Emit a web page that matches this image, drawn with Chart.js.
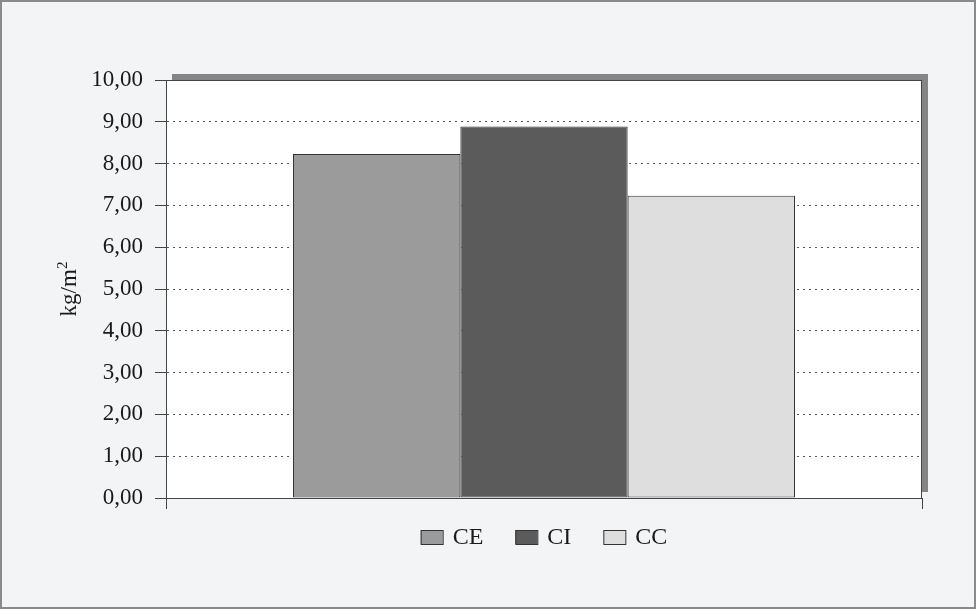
<!DOCTYPE html>
<html>
<head>
<meta charset="utf-8">
<script src="https://cdn.jsdelivr.net/npm/chart.js@4.4.1/dist/chart.umd.min.js"></script>
<style>
  html, body { margin: 0; padding: 0; background: #f3f4f6; }
  #wrap { width: 976px; height: 609px; }
</style>
</head>
<body>
<div id="wrap"><canvas id="chart" width="976" height="609"></canvas></div>
<script>
// Series, one bar each
var seriesNames = ['CE', 'CI', 'CC'];
var seriesValues = [8.23, 8.89, 7.23];
var seriesColors = ['#9b9b9b', '#5b5b5b', '#dedede'];
var categories = [''];
var yTicks = [0, 1, 2, 3, 4, 5, 6, 7, 8, 9, 10];

var serif = "'Liberation Serif', 'DejaVu Serif', serif";

// Frame, plot shadow and white plot background
var backdrop = {
    id: 'backdrop',
    beforeDraw: function (chart) {
        var ctx = chart.ctx, a = chart.chartArea;
        ctx.save();
        ctx.fillStyle = '#f3f4f6';
        ctx.fillRect(0, 0, chart.width, chart.height);
        ctx.strokeStyle = '#8a8a8a';
        ctx.lineWidth = 2;
        ctx.strokeRect(1, 1, chart.width - 2, chart.height - 2);
        ctx.fillStyle = '#858585';
        ctx.fillRect(a.left + 6, a.top - 6, a.right - a.left, a.bottom - a.top);
        ctx.fillStyle = '#ffffff';
        ctx.fillRect(a.left, a.top, a.right - a.left, a.bottom - a.top);
        ctx.restore();
    },
    afterDraw: function (chart) {
        var ctx = chart.ctx, a = chart.chartArea;
        ctx.save();
        ctx.strokeStyle = '#444';
        ctx.lineWidth = 1;
        ctx.strokeRect(a.left + 0.5, a.top + 0.5, a.right - a.left - 1, a.bottom - a.top);

        // y title: kg/m with a raised 2
        ctx.translate(70, (a.top + a.bottom) / 2);
        ctx.rotate(-Math.PI / 2);
        ctx.fillStyle = '#1a1a1a';
        ctx.textBaseline = 'middle';
        ctx.font = '23px ' + serif;
        var base = 'kg/m';
        var w1 = ctx.measureText(base).width;
        ctx.font = '15px ' + serif;
        var w2 = ctx.measureText('2').width;
        ctx.font = '23px ' + serif;
        ctx.fillText(base, -(w1 + w2) / 2, 0);
        ctx.font = '15px ' + serif;
        ctx.fillText('2', -(w1 + w2) / 2 + w1, -7);
        ctx.setTransform(1, 0, 0, 1, 0, 0);

        // legend row under the plot
        ctx.font = '24px ' + serif;
        ctx.textBaseline = 'middle';
        var y = 537, gap = 32, box = 22;
        var total = 0;
        chart.data.datasets.forEach(function (ds) {
            total += box + 10 + ctx.measureText(ds.label).width;
        });
        total += gap * (chart.data.datasets.length - 1);
        var x = (a.left + a.right) / 2 - total / 2;
        chart.data.datasets.forEach(function (ds) {
            ctx.fillStyle = ds.backgroundColor;
            ctx.fillRect(x, y - 7, box, 14);
            ctx.strokeStyle = '#333';
            ctx.strokeRect(x + 0.5, y - 6.5, box, 14);
            ctx.fillStyle = '#1a1a1a';
            ctx.fillText(ds.label, x + box + 10, y + 1);
            x += box + 10 + ctx.measureText(ds.label).width + gap;
        });
        ctx.restore();
    }
};

new Chart(document.getElementById('chart'), {
    type: 'bar',
    data: {
        labels: categories,
        datasets: seriesNames.map(function (name, i) {
            return {
                label: name,
                data: [seriesValues[i]],
                backgroundColor: seriesColors[i],
                borderColor: '#333',
                borderWidth: 1,
                borderSkipped: false,
                categoryPercentage: 0.664,
                barPercentage: 1
            };
        })
    },
    options: {
        responsive: false,
        animation: false,
        layout: { padding: { left: 0, top: 80, right: 54, bottom: 0 } },
        plugins: {
            legend: { display: false },
            tooltip: { enabled: false }
        },
        scales: {
            x: {
                grid: {
                    display: true,
                    drawOnChartArea: false,
                    drawTicks: true,
                    tickLength: 11,
                    color: '#444'
                },
                border: { color: '#444', width: 1 },
                ticks: { display: false },
                afterFit: function (scale) { scale.height = 111; }
            },
            y: {
                min: 0,
                max: 10,
                afterBuildTicks: function (scale) {
                    scale.ticks = yTicks.map(function (v) { return { value: v }; });
                },
                grid: {
                    color: '#555',
                    lineWidth: 1,
                    tickLength: 11,
                    tickColor: '#444',
                    tickBorderDash: []
                },
                border: { color: '#444', width: 1, dash: [2, 4] },
                ticks: {
                    color: '#1a1a1a',
                    padding: 12,
                    font: { family: serif, size: 23 },
                    callback: function (v) { return v.toFixed(2).replace('.', ','); }
                },
                afterFit: function (scale) { scale.width = 166; }
            }
        }
    },
    plugins: [backdrop]
});
</script>
</body>
</html>
